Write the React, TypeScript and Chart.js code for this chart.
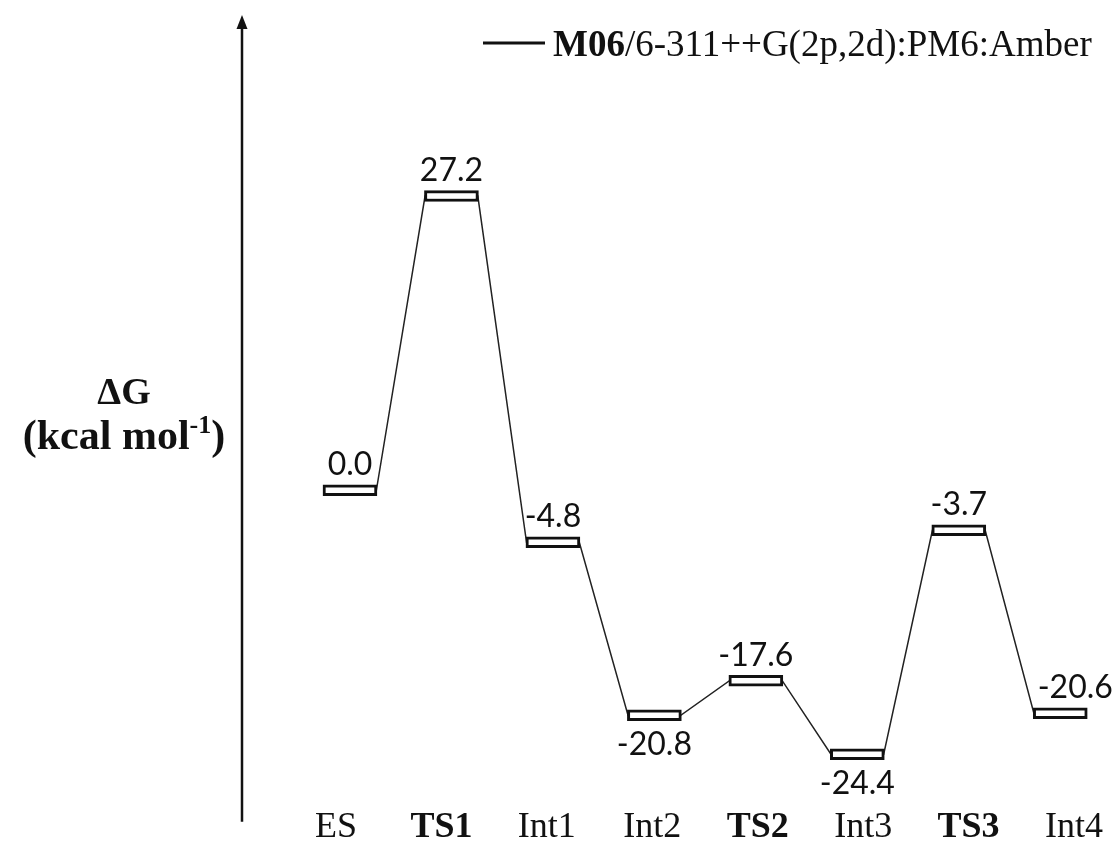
import React, { useEffect, useRef } from "react";
import { Chart, registerables } from "chart.js";

Chart.register(...registerables);

const categories = ["ES", "TS1", "Int1", "Int2", "TS2", "Int3", "TS3", "Int4"];
const energies = [0.0, 27.2, -4.8, -20.8, -17.6, -24.4, -3.7, -20.6];
const valueLabels = ["0.0", "27.2", "-4.8", "-20.8", "-17.6", "-24.4", "-3.7", "-20.6"];
const labelsBelow = ["Int2", "Int3"];
const boldCategories = ["TS1", "TS2", "TS3"];
const legendBold = "M06";
const legendRest = "/6-311++G(2p,2d):PM6:Amber";
const yTitleTop = "\u0394G";
const yTitleMain = "(kcal mol";
const yTitleSup = "-1";
const yTitleEnd = ")";

const SERIF = "'Liberation Serif', 'DejaVu Serif', serif";
const SANS = "Lato, 'Noto Sans', sans-serif";
const HALF = 0.26;
const BAR_HALF_H = 0.5;

const annotations = {
  id: "annotations",
  afterDraw(chart: any) {
    const { ctx, chartArea, scales } = chart;
    const x = scales.x;
    const y = scales.y;
    ctx.save();
    // vertical arrow axis
    const ax = chartArea.left;
    const top = chartArea.top;
    const bottom = chartArea.bottom + 22;
    ctx.strokeStyle = "#111";
    ctx.fillStyle = "#111";
    ctx.lineWidth = 2.5;
    ctx.beginPath();
    ctx.moveTo(ax, bottom);
    ctx.lineTo(ax, top + 10);
    ctx.stroke();
    ctx.beginPath();
    ctx.moveTo(ax, top);
    ctx.lineTo(ax - 5.5, top + 14);
    ctx.lineTo(ax + 5.5, top + 14);
    ctx.closePath();
    ctx.fill();

    // value labels
    ctx.font = `32px ${SANS}`;
    ctx.textAlign = "center";
    ctx.textBaseline = "alphabetic";
    energies.forEach((v, i) => {
      const px = x.getPixelForValue(i);
      const py = y.getPixelForValue(v);
      const below = labelsBelow.includes(categories[i]);
      const dx = i === energies.length - 1 ? 15 : 0;
      ctx.fillText(valueLabels[i], px + dx, below ? py + 40 : py - 15);
    });

    // legend
    ctx.lineWidth = 3;
    ctx.beginPath();
    ctx.moveTo(483, 43);
    ctx.lineTo(545, 43);
    ctx.stroke();
    ctx.textAlign = "left";
    ctx.font = `bold 37px ${SERIF}`;
    ctx.fillText(legendBold, 553, 56);
    const wb = ctx.measureText(legendBold).width;
    ctx.font = `37px ${SERIF}`;
    ctx.fillText(legendRest, 553 + wb, 56);

    // y title
    const cx = 124;
    ctx.textAlign = "center";
    ctx.font = `bold 38px ${SERIF}`;
    ctx.fillText(yTitleTop, cx, 404);
    ctx.textAlign = "left";
    ctx.font = `bold 42px ${SERIF}`;
    const w1 = ctx.measureText(yTitleMain).width;
    const w3 = ctx.measureText(yTitleEnd).width;
    ctx.font = `bold 26px ${SERIF}`;
    const w2 = ctx.measureText(yTitleSup).width;
    let sx = cx - (w1 + w2 + w3) / 2;
    ctx.font = `bold 42px ${SERIF}`;
    ctx.fillText(yTitleMain, sx, 449);
    sx += w1;
    ctx.font = `bold 26px ${SERIF}`;
    ctx.fillText(yTitleSup, sx, 433);
    sx += w2;
    ctx.font = `bold 42px ${SERIF}`;
    ctx.fillText(yTitleEnd, sx, 449);
    ctx.restore();
  },
};

export default function App() {
  const ref = useRef<HTMLCanvasElement>(null);
  useEffect(() => {
    document.body.style.margin = "0";
    const connector: { x: number; y: number }[] = [];
    energies.forEach((v, i) => {
      connector.push({ x: i - HALF, y: v });
      connector.push({ x: i + HALF, y: v });
    });
    const chart = new Chart(ref.current as HTMLCanvasElement, {
      type: "bar",
      data: {
        datasets: [
          {
            type: "bar",
            data: energies.map((v, i) => ({ x: i, y: [v - BAR_HALF_H, v + BAR_HALF_H] })) as any,
            backgroundColor: "#ffffff",
            borderColor: "#111",
            borderWidth: 3,
            borderSkipped: false,
            barThickness: 54,
            order: 0,
          },
          {
            type: "line",
            data: connector as any,
            borderColor: "#222",
            borderWidth: 1.5,
            pointRadius: 0,
            fill: false,
            tension: 0,
            order: 1,
          } as any,
        ],
      },
      options: {
        responsive: false,
        animation: false,
        devicePixelRatio: 1,
        layout: { padding: { left: 242, right: 8, top: 15, bottom: 3 } },
        plugins: { legend: { display: false }, tooltip: { enabled: false } },
        scales: {
          x: {
            type: "linear",
            display: false,
            min: -1.064,
            max: 7.5,
            offset: false,
          },
          xLabels: {
            type: "linear",
            position: "bottom",
            min: -0.8916,
            max: 7.3508,
            offset: false,
            grid: { display: false, drawTicks: false },
            border: { display: false },
            afterBuildTicks: (scale: any) => {
              scale.ticks = categories.map((_, i) => ({ value: i }));
            },
            ticks: {
              autoSkip: false,
              maxRotation: 0,
              padding: 6,
              color: "#111",
              callback: (value: any) => categories[value as number],
              font: (ctx: any) => ({
                family: SERIF,
                size: 36,
                weight: boldCategories.includes(categories[ctx.tick?.value]) ? "bold" : "normal",
              }),
            },
          },
          y: {
            type: "linear",
            display: false,
            min: -28.61,
            max: 43.94,
          },
        },
      },
      plugins: [annotations],
    });
    return () => chart.destroy();
  }, []);
  return (
    <div style={{ width: 1119, height: 858 }}>
      <canvas ref={ref} width={1119} height={858} style={{ display: "block", width: 1119, height: 858 }} />
    </div>
  );
}
